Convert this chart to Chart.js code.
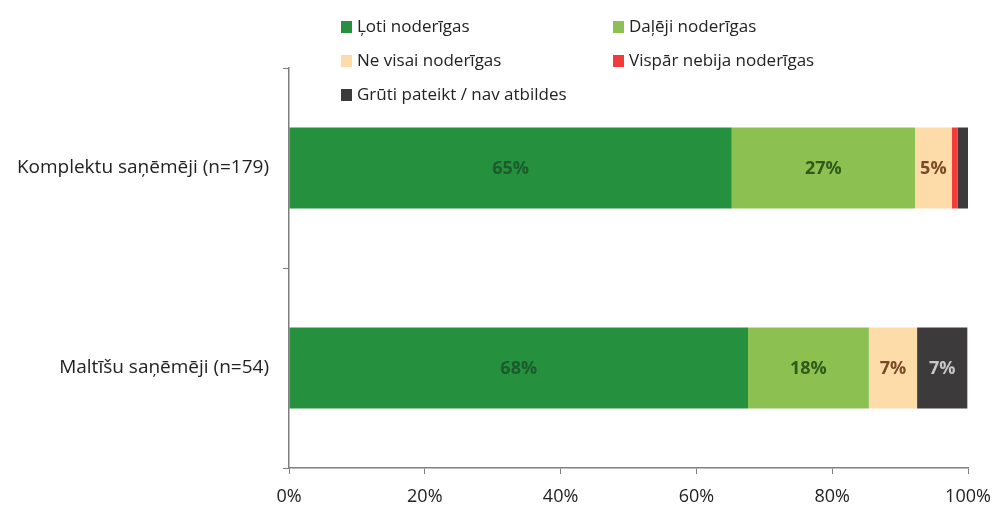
<!DOCTYPE html>
<html>
<head>
<meta charset="utf-8">
<script src="https://cdn.jsdelivr.net/npm/chart.js@4.4.0/dist/chart.umd.min.js"></script>
<style>
  html, body { margin: 0; padding: 0; background: #fff; }
  #wrap { width: 997px; height: 509px; position: relative; }
</style>
</head>
<body>
<div id="wrap"><canvas id="chart"></canvas></div>
<script>
// chart data
var categories = ['Komplektu saņēmēji (n=179)', 'Maltīšu saņēmēji (n=54)'];
var seriesNames = ['Ļoti noderīgas', 'Daļēji noderīgas', 'Ne visai noderīgas', 'Vispār nebija noderīgas', 'Grūti pateikt / nav atbildes'];
var veryUseful = [65.2, 67.6];
var partlyUseful = [27.0, 17.8];
var notVeryUseful = [5.4, 7.1];
var notUseful = [0.9, 0];
var hardToSay = [1.5, 7.4];
var tickLabels = ['0%', '20%', '40%', '60%', '80%', '100%'];

var colors = ['#25913f', '#8cc152', '#fedcaa', '#f23b3b', '#3c3a3b'];
var labelColors = ['#1d5a2c', '#2f5a1a', '#7a4a28', '#7a2020', '#c8c8c8'];
var font = "'Open Sans', sans-serif";

var values = [veryUseful, partlyUseful, notVeryUseful, notUseful, hardToSay];
var datasets = values.map(function (v, i) {
    return {
        label: seriesNames[i],
        data: v,
        backgroundColor: colors[i],
        borderWidth: 0,
        barPercentage: 0.405,
        categoryPercentage: 1
    };
});

// legend in two columns, like the original
var legendPlugin = {
    id: 'gridLegend',
    afterDraw: function (chart) {
        var ctx = chart.ctx;
        var cols = [341, 613];
        var rows = [27, 61, 95];
        ctx.save();
        ctx.font = '17px ' + font;
        ctx.textBaseline = 'middle';
        chart.data.datasets.forEach(function (ds, i) {
            var x = cols[i % 2], y = rows[Math.floor(i / 2)];
            ctx.fillStyle = ds.backgroundColor;
            ctx.fillRect(x, y - 6, 11, 12);
            ctx.fillStyle = '#222';
            ctx.fillText(ds.label, x + 16, y);
        });
        ctx.restore();
    }
};

// value labels inside the bars
var valuePlugin = {
    id: 'barValues',
    afterDatasetsDraw: function (chart) {
        var ctx = chart.ctx;
        ctx.save();
        ctx.font = 'bold 18px ' + font;
        ctx.textAlign = 'center';
        ctx.textBaseline = 'middle';
        chart.data.datasets.forEach(function (ds, i) {
            chart.getDatasetMeta(i).data.forEach(function (bar, j) {
                var v = ds.data[j];
                if (v < 5) return;
                ctx.fillStyle = labelColors[i];
                ctx.fillText(Math.round(v) + '%', (bar.x + bar.base) / 2, bar.y + 1);
            });
        });
        ctx.restore();
    }
};

new Chart(document.getElementById('chart'), {
    type: 'bar',
    data: { labels: categories, datasets: datasets },
    plugins: [legendPlugin, valuePlugin],
    options: {
        indexAxis: 'y',
        responsive: true,
        maintainAspectRatio: false,
        animation: false,
        layout: { padding: { top: 68, right: 29, left: 0, bottom: 0 } },
        plugins: {
            legend: { display: false },
            tooltip: { enabled: false }
        },
        scales: {
            x: {
                stacked: true,
                min: 0,
                max: 100,
                afterFit: function (s) {
                    s.height = 41;
                    s.paddingLeft = 0;
                    s.paddingRight = 0;
                },
                border: { color: '#7f7f7f', width: 1.5 },
                grid: { drawOnChartArea: false, tickLength: 6, color: '#7f7f7f' },
                ticks: {
                    stepSize: 20,
                    padding: 12,
                    color: '#222',
                    font: { family: font, size: 18 },
                    callback: function (v, i) { return tickLabels[i]; }
                }
            },
            y: {
                stacked: true,
                afterFit: function (s) { s.width = 289; },
                border: { color: '#7f7f7f', width: 1.5 },
                grid: { drawOnChartArea: false, offset: true, tickLength: 6, color: '#7f7f7f' },
                ticks: {
                    padding: 14,
                    color: '#222',
                    font: { family: font, size: 19 }
                }
            }
        }
    }
});
</script>
</body>
</html>
